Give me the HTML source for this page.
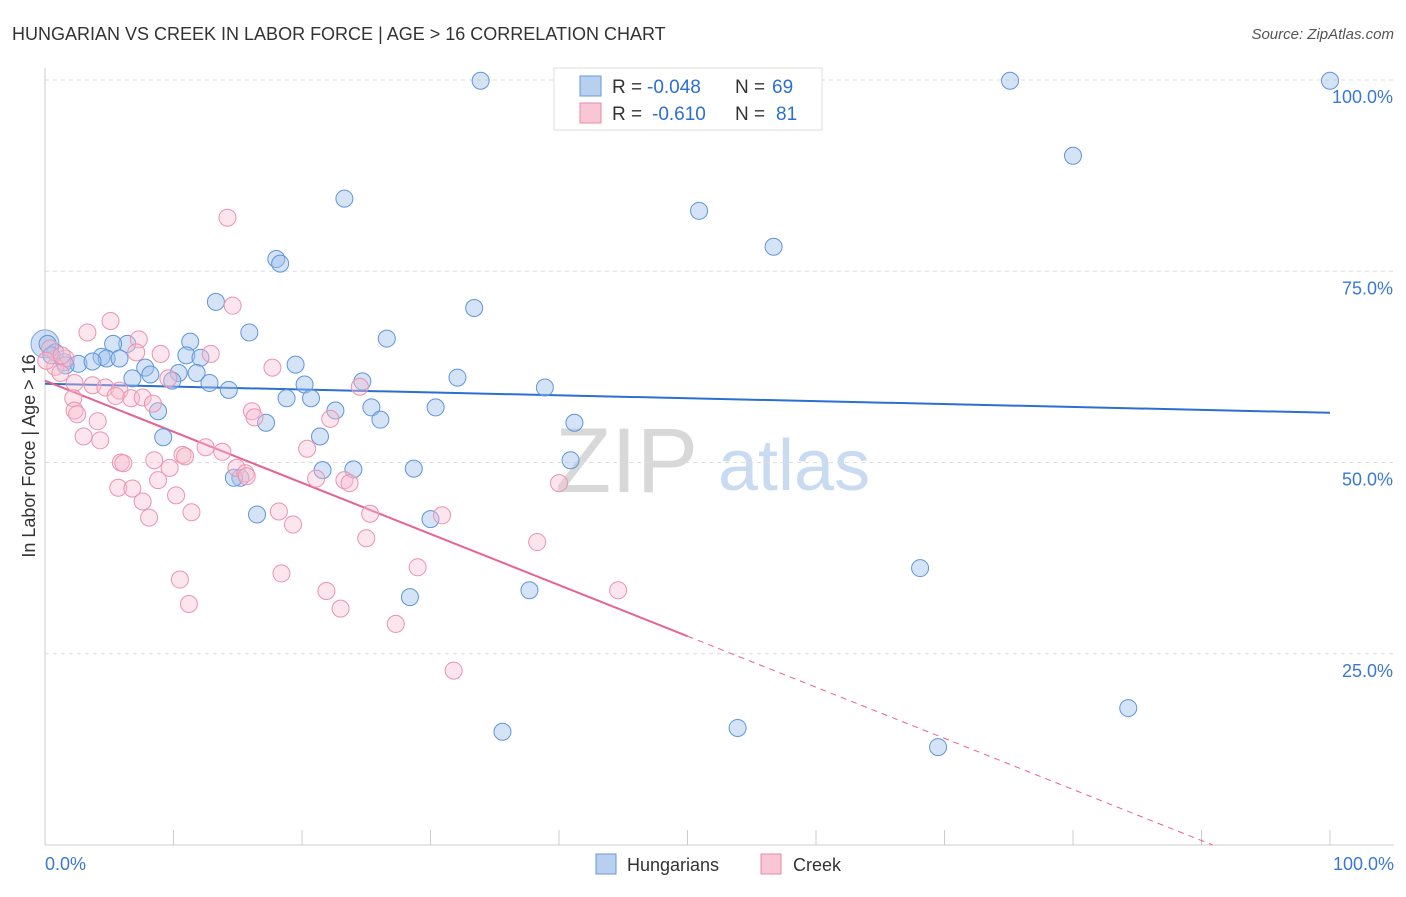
<!DOCTYPE html>
<html><head><meta charset="utf-8">
<style>
body{margin:0;background:#fff;font-family:"Liberation Sans",sans-serif;}
svg text{font-family:"Liberation Sans",sans-serif;}
</style></head>
<body>
<svg id="chart" width="1406" height="892" viewBox="0 0 1406 892" xmlns="http://www.w3.org/2000/svg">
<text x="12" y="40" font-size="18" fill="#333">HUNGARIAN VS CREEK IN LABOR FORCE | AGE &gt; 16 CORRELATION CHART</text>
<text x="1394" y="39" font-size="15" fill="#555" font-style="italic" text-anchor="end">Source: ZipAtlas.com</text>
<g>
<text x="555" y="492" font-size="92" fill="#d8d8d8" font-family="Liberation Serif,serif">ZIP</text>
<text x="718" y="490" font-size="72" fill="#c9dbf0">atlas</text>
</g>
<g id="grid"></g>
<g id="axes"></g>
<g id="trend"></g>
<g id="points"></g>
<text x="35" y="456" font-size="18" fill="#333" text-anchor="middle" transform="rotate(-90 35 456)">In Labor Force | Age &gt; 16</text>
<g>
<rect x="554" y="68" width="268" height="62" fill="#fff" stroke="#ddd"/>
<rect x="580" y="76" width="21" height="20" fill="#b7d0f0" stroke="#6a9ad8"/>
<rect x="580" y="103" width="21" height="20" fill="#f8c6d4" stroke="#e88aa8"/>
<g font-size="19">
<text x="612" y="93" fill="#333">R =</text><text x="647" y="93" fill="#2a6fd1">-0.048</text>
<text x="735" y="93" fill="#333">N =</text><text x="772" y="93" fill="#2a6fd1">69</text></g>
<g font-size="19">
<text x="612" y="120" fill="#333">R =</text><text x="652" y="120" fill="#2a6fd1">-0.610</text>
<text x="735" y="120" fill="#333">N =</text><text x="776" y="120" fill="#2a6fd1">81</text></g>
</g>
<g>
<rect x="596" y="854" width="20" height="20" fill="#b7d0f0" stroke="#6a9ad8"/>
<text x="627" y="871" font-size="18" fill="#333">Hungarians</text>
<rect x="761" y="854" width="20" height="20" fill="#f8c6d4" stroke="#e88aa8"/>
<text x="793" y="871" font-size="18" fill="#333">Creek</text>
</g>
</svg>
<script>
const yTicks=[25,50,75,100];
const yTickLabels=["25.0%","50.0%","75.0%","100.0%"];
const xTickLabels=["0.0%","100.0%"];
const blueX=[33.9,75.1,100,80.0,23.3,50.9,56.7,18.0,18.3,13.3,33.4,15.9,26.6,11.3,6.4,5.3,0.2,0.8,4.4,4.8,1.5,2.6,3.7,5.8,11.0,12.1,19.5,7.8,10.4,11.8,8.2,6.8,9.9,32.1,12.8,20.2,14.3,38.9,24.7,18.8,20.7,22.6,25.4,30.4,8.8,26.1,41.2,17.2,21.4,9.2,40.9,28.7,24.0,21.6,15.2,14.7,16.5,30.0,68.1,37.7,28.4,35.6,53.9,69.5,84.3,1.6,0.5];
const blueY=[99.9,99.9,99.9,90.1,84.5,82.9,78.2,76.6,76.0,71.0,70.2,67.0,66.2,65.8,65.5,65.5,65.5,64.4,63.8,63.6,63.1,62.9,63.2,63.6,64.0,63.7,62.8,62.4,61.7,61.7,61.5,61.0,60.7,61.1,60.4,60.2,59.5,59.8,60.6,58.4,58.4,56.8,57.2,57.2,56.7,55.6,55.2,55.2,53.4,53.3,50.3,49.2,49.1,49.0,48.0,48.0,43.2,42.6,36.2,33.3,32.4,14.8,15.3,12.8,17.9,62.7,64.0];
const pinkX=[14.2,5.1,14.6,3.3,7.3,12.9,9.0,17.7,1.6,0.8,1.2,2.3,3.7,4.7,5.8,6.7,7.6,5.5,8.4,9.6,24.5,2.2,2.3,2.5,4.1,16.1,16.3,22.2,3.0,4.3,12.5,13.8,10.7,10.9,20.4,5.9,6.1,8.5,9.7,14.9,15.6,15.7,21.1,23.3,23.7,40.0,5.7,6.8,8.8,10.2,7.6,11.4,8.1,18.2,25.3,30.9,19.3,25.0,38.3,10.5,18.4,29.0,44.6,21.9,11.2,23.0,27.3,31.8,0.4,0.1,1.3,7.1];
const pinkY=[82.0,68.5,70.5,67.0,66.1,64.2,64.2,62.4,63.6,62.5,61.7,60.4,60.1,59.8,59.4,58.4,58.5,58.7,57.7,61.0,59.9,58.4,56.8,56.3,55.4,56.7,55.9,55.7,53.4,52.9,52.0,51.4,51.0,50.8,51.8,50.0,49.9,50.3,49.3,49.3,48.6,48.2,47.9,47.7,47.3,47.3,46.7,46.6,47.7,45.7,44.9,43.5,42.8,43.6,43.3,43.1,41.9,40.1,39.6,34.7,35.5,36.3,33.3,33.2,31.5,30.9,28.9,22.8,64.9,63.3,64.0,64.4];
const blueTrend=[60.3,56.5];
const pinkTrend=[60.7,-0.668];
const NS="http://www.w3.org/2000/svg";
const X0=45,X1=1330,YB=845,YT=80;
function sx(v){return X0+(X1-X0)*v/100;}
function sy(v){return YB-(YB-YT)*v/100;}
function mk(tag,attrs,parent){const e=document.createElementNS(NS,tag);for(const k in attrs)e.setAttribute(k,attrs[k]);document.getElementById(parent).appendChild(e);return e;}
yTicks.forEach((t,i)=>{
 const g=mk('line',{x1:X0,x2:1394,y1:sy(t),y2:sy(t),stroke:'#ddd','stroke-dasharray':'4,4'},'grid');
 
 
 const l=mk('text',{x:1393,y:sy(t)+23,'font-size':18,fill:'#3a78d4','text-anchor':'end'},'grid');
 l.textContent=yTickLabels[i];
 
 
});
const ax=mk('line',{x1:X0,x2:X0,y1:68,y2:YB,stroke:'#ccc'},'axes');


const xa=mk('line',{x1:X0,x2:1394,y1:YB,y2:YB,stroke:'#ccc'},'axes');


for(let k=0;k<=10;k++){
 const t=mk('line',{x1:sx(k*10),x2:sx(k*10),y1:YB,y2:YB-15,stroke:'#ccc'},'axes');
 
 
}
const xl0=mk('text',{x:45,y:870,'font-size':18,fill:'#3a78d4'},'axes');xl0.textContent=xTickLabels[0];


const xl1=mk('text',{x:1394,y:870,'font-size':18,fill:'#3a78d4','text-anchor':'end'},'axes');xl1.textContent=xTickLabels[1];


const big=mk('circle',{cx:sx(0),cy:sy(65.5),r:14,fill:'rgba(160,192,236,0.5)',stroke:'#7aa6e0','stroke-width':1},'points');


blueX.forEach((x,i)=>{
 const c=mk('circle',{cx:sx(x),cy:sy(blueY[i]),r:8.5,fill:'rgba(160,192,236,0.45)',stroke:'#5f95dc','stroke-width':1},'points');
 
 
});
pinkX.forEach((x,i)=>{
 const c=mk('circle',{cx:sx(x),cy:sy(pinkY[i]),r:8.5,fill:'rgba(248,190,208,0.4)',stroke:'#eb93b1','stroke-width':1},'points');
 
 
});
const bt=mk('line',{x1:sx(0),y1:sy(blueTrend[0]),x2:sx(100),y2:sy(blueTrend[1]),stroke:'#2a6fd1','stroke-width':2},'trend');


const pf=v=>pinkTrend[0]+pinkTrend[1]*v;
const xz=-pinkTrend[0]/pinkTrend[1];
const pt=mk('line',{x1:sx(0),y1:sy(pf(0)),x2:sx(50),y2:sy(pf(50)),stroke:'#e8628f','stroke-width':2},'trend');


const pd=mk('line',{x1:sx(50),y1:sy(pf(50)),x2:sx(xz),y2:sy(0),stroke:'#e8628f','stroke-width':1,'stroke-dasharray':'6,5'},'trend');


</script>
</body></html>
